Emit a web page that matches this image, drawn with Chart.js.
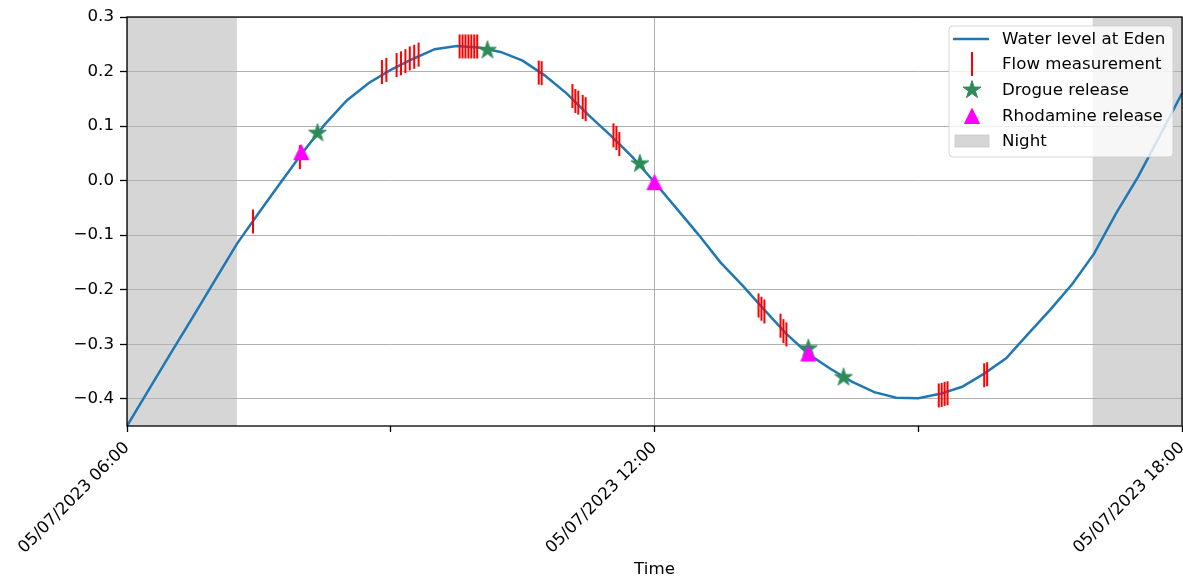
<!DOCTYPE html>
<html>
<head>
<meta charset="utf-8">
<script src="https://cdn.jsdelivr.net/npm/chart.js@4.4.1/dist/chart.umd.min.js"></script>
<style>
  html, body { margin: 0; padding: 0; background: #ffffff; }
  #wrap { width: 1183px; height: 581px; }
</style>
</head>
<body>
<div id="wrap"><canvas id="c" width="1183" height="581"></canvas></div>
<script>
// ---------------- DATA ----------------
const levelTimes = ['06:00','06:15','06:30','06:45','07:00','07:15','07:30','07:45',
  '08:00','08:15','08:30','08:45','09:00','09:15','09:30','09:45',
  '10:00','10:15','10:30','10:45','11:00','11:15','11:30','11:45',
  '12:00','12:15','12:30','12:45','13:00','13:15','13:30','13:45',
  '14:00','14:15','14:30','14:45','15:00','15:15','15:30','15:45',
  '16:00','16:15','16:30','16:45','17:00','17:15','17:30','17:45','18:00'];
const levelValues = [-0.450,-0.383,-0.316,-0.250,-0.183,-0.116,-0.059,-0.003,
  0.052,0.103,0.147,0.179,0.203,0.223,0.241,0.247,
  0.244,0.236,0.220,0.193,0.160,0.120,0.083,0.043,
  -0.003,-0.051,-0.099,-0.150,-0.192,-0.237,-0.281,-0.318,
  -0.345,-0.369,-0.388,-0.398,-0.399,-0.391,-0.378,-0.354,
  -0.326,-0.281,-0.237,-0.190,-0.134,-0.060,0.007,0.083,0.160];

const flowTimes = ['07:26','07:58','08:54','08:57','09:04','09:07','09:10','09:13','09:16','09:19',
  '09:47','09:49','09:51','09:53','09:55','09:57','09:59','10:41','10:43',
  '11:04','11:06','11:08','11:11','11:13','11:32','11:34','11:36',
  '13:11','13:13','13:15','13:26','13:28','13:30',
  '15:14','15:16','15:18','15:20','15:45','15:47'];
const flowValues = [-0.075,0.043,0.199,0.203,0.212,0.215,0.219,0.224,0.227,0.231,
  0.246,0.246,0.246,0.246,0.246,0.246,0.246,0.198,0.197,
  0.155,0.146,0.143,0.135,0.131,0.083,0.078,0.067,
  -0.229,-0.235,-0.240,-0.266,-0.276,-0.282,
  -0.394,-0.393,-0.391,-0.390,-0.357,-0.355];

const drogueTimes = ['08:10','10:06','11:50','13:45','14:09'];
const drogueValues = [0.087,0.239,0.031,-0.308,-0.361];

const rhodamineTimes = ['07:59','12:00','13:45'];
const rhodamineValues = [0.052,-0.003,-0.317];

const nightStarts = ['06:00','16:59'];
const nightEnds = ['07:15','18:00'];

const xTickHours = [6, 9, 12, 15, 18];
const xTickLabels = ['05/07/2023 06:00', '', '05/07/2023 12:00', '', '05/07/2023 18:00'];
const yTicks = [-0.4, -0.3, -0.2, -0.1, 0.0, 0.1, 0.2, 0.3];

const seriesNames = ['Water level at Eden', 'Flow measurement', 'Drogue release', 'Rhodamine release', 'Night'];

// ---------------- HELPERS ----------------
const FONT = 'DejaVu Sans';
const FS = 16.67;
const toHour = s => { const p = s.split(':').map(Number); return p[0] + p[1] / 60; };
const pts = (ts, vs) => ts.map((t, i) => ({ x: toHour(t), y: vs[i] }));

const BLUE = '#1f77b4', GREEN = '#2e8b57', MAGENTA = '#ff00ff', NIGHT = '#d6d6d6';

function makeStar(R, color) {
  const s = Math.ceil(2 * R + 3);
  const c = document.createElement('canvas');
  c.width = s; c.height = s;
  const g = c.getContext('2d');
  const cx = s / 2, cy = s / 2;
  g.beginPath();
  for (let i = 0; i < 10; i++) {
    const a = -Math.PI / 2 + i * Math.PI / 5;
    const r = (i % 2) ? R * 0.382 : R;
    const px = cx + r * Math.cos(a), py = cy + r * Math.sin(a);
    if (i === 0) g.moveTo(px, py); else g.lineTo(px, py);
  }
  g.closePath();
  g.fillStyle = color; g.fill();
  g.strokeStyle = color; g.lineWidth = 1; g.lineJoin = 'miter'; g.stroke();
  return c;
}
function makeTriangle(h, color) {
  const s = Math.ceil(h + 3);
  const c = document.createElement('canvas');
  c.width = s; c.height = s;
  const g = c.getContext('2d');
  const cx = s / 2, cy = s / 2;
  g.beginPath();
  g.moveTo(cx, cy - h / 2);
  g.lineTo(cx - h / 2, cy + h / 2);
  g.lineTo(cx + h / 2, cy + h / 2);
  g.closePath();
  g.fillStyle = color; g.fill();
  g.strokeStyle = color; g.lineWidth = 1; g.stroke();
  return c;
}
const starImg = makeStar(9.4, GREEN);
const triImg = makeTriangle(15, MAGENTA);

// ---------------- PLUGINS ----------------
const nightPlugin = {
  id: 'night',
  beforeDraw(chart) {
    const { ctx, chartArea: a, scales: { x } } = chart;
    ctx.save();
    ctx.fillStyle = NIGHT;
    nightStarts.forEach((s, i) => {
      const x0 = x.getPixelForValue(toHour(s));
      const x1 = x.getPixelForValue(toHour(nightEnds[i]));
      ctx.fillRect(x0, a.top, x1 - x0, a.bottom - a.top);
    });
    ctx.restore();
  }
};

const framePlugin = {
  id: 'frameLegend',
  afterDraw(chart) {
    const { ctx, chartArea: a } = chart;
    ctx.save();
    ctx.strokeStyle = '#000';
    ctx.lineWidth = 1.3;
    ctx.strokeRect(a.left, a.top, a.right - a.left, a.bottom - a.top);

    // legend box
    const bx = 949, by = 26, bw = 224, bh = 131, r = 4;
    ctx.beginPath();
    ctx.moveTo(bx + r, by);
    ctx.lineTo(bx + bw - r, by); ctx.arcTo(bx + bw, by, bx + bw, by + r, r);
    ctx.lineTo(bx + bw, by + bh - r); ctx.arcTo(bx + bw, by + bh, bx + bw - r, by + bh, r);
    ctx.lineTo(bx + r, by + bh); ctx.arcTo(bx, by + bh, bx, by + bh - r, r);
    ctx.lineTo(bx, by + r); ctx.arcTo(bx, by, bx + r, by, r);
    ctx.closePath();
    ctx.fillStyle = 'rgba(255,255,255,0.8)';
    ctx.fill();
    ctx.strokeStyle = 'rgba(204,204,204,0.8)';
    ctx.lineWidth = 1;
    ctx.stroke();

    const rows = [39, 64, 90, 116, 141];
    const hx = 972;
    ctx.strokeStyle = BLUE; ctx.lineWidth = 2.5;
    ctx.beginPath(); ctx.moveTo(953, rows[0]); ctx.lineTo(989, rows[0]); ctx.stroke();
    ctx.strokeStyle = 'red'; ctx.lineWidth = 2;
    ctx.beginPath(); ctx.moveTo(hx, rows[1] - 12); ctx.lineTo(hx, rows[1] + 12); ctx.stroke();
    ctx.drawImage(starImg, hx - starImg.width / 2, rows[2] - starImg.height / 2);
    ctx.drawImage(triImg, hx - triImg.width / 2, rows[3] - triImg.height / 2);
    ctx.fillStyle = NIGHT;
    ctx.fillRect(955, rows[4] - 6, 34, 12);
    ctx.strokeStyle = '#c8c8c8'; ctx.lineWidth = 0.8;
    ctx.strokeRect(955, rows[4] - 6, 34, 12);

    ctx.fillStyle = '#000';
    ctx.font = FS + 'px "' + FONT + '"';
    ctx.textAlign = 'left';
    ctx.textBaseline = 'middle';
    seriesNames.forEach((n, i) => ctx.fillText(n, 1002, rows[i] + 1));
    ctx.restore();
  }
};

// ---------------- CHART ----------------
const fmtY = v => (v < -1e-9 ? '\u2212' : '') + Math.abs(v).toFixed(1);

new Chart(document.getElementById('c'), {
  type: 'line',
  data: {
    datasets: [
      {
        label: seriesNames[0],
        data: pts(levelTimes, levelValues),
        borderColor: BLUE, borderWidth: 2.5,
        pointRadius: 0, tension: 0, fill: false, order: 4
      },
      {
        label: seriesNames[1],
        data: pts(flowTimes, flowValues),
        showLine: false,
        pointStyle: 'line', rotation: 90, pointRadius: 12,
        pointBorderColor: 'red', pointBorderWidth: 2, borderColor: 'red',
        order: 3
      },
      {
        label: seriesNames[2],
        data: pts(drogueTimes, drogueValues),
        showLine: false,
        pointStyle: starImg, pointRadius: 10, order: 2
      },
      {
        label: seriesNames[3],
        data: pts(rhodamineTimes, rhodamineValues),
        showLine: false,
        pointStyle: triImg, pointRadius: 10, order: 1
      }
    ]
  },
  options: {
    responsive: false,
    animation: false,
    devicePixelRatio: 1,
    events: [],
    layout: { autoPadding: false, padding: { top: 17, right: 1, left: 0, bottom: 0 } },
    plugins: { legend: { display: false }, tooltip: { enabled: false } },
    scales: {
      x: {
        type: 'linear', min: 6, max: 18,
        afterBuildTicks: s => { s.ticks = xTickHours.map(v => ({ value: v })); },
        afterFit: s => { s.height = 155; s.paddingRight = 0; s.paddingLeft = 0; },
        ticks: {
          autoSkip: false, minRotation: 45, maxRotation: 45, padding: 6,
          color: '#000', font: { family: FONT, size: FS },
          callback: v => { const i = xTickHours.indexOf(v); return i >= 0 ? xTickLabels[i] : ''; }
        },
        grid: {
          color: c => (c.tick && xTickLabels[xTickHours.indexOf(c.tick.value)]) ? '#b0b0b0' : 'rgba(0,0,0,0)',
          lineWidth: 1, tickLength: 6, tickColor: '#000', tickWidth: 1.3
        },
        border: { display: false },
        title: { display: true, text: 'Time', color: '#000', font: { family: FONT, size: FS }, padding: { top: 0, bottom: 1 } }
      },
      y: {
        type: 'linear', min: -0.45, max: 0.3,
        afterBuildTicks: s => { s.ticks = yTicks.map(v => ({ value: v })); },
        afterFit: s => { s.width = 127; s.paddingTop = 0; s.paddingBottom = 0; },
        ticks: { padding: 6, color: '#000', font: { family: FONT, size: FS }, callback: v => fmtY(v) },
        grid: { color: '#b0b0b0', lineWidth: 1, tickLength: 7, tickColor: '#000', tickWidth: 1.3 },
        border: { display: false }
      }
    }
  },
  plugins: [nightPlugin, framePlugin]
});
</script>
</body>
</html>
